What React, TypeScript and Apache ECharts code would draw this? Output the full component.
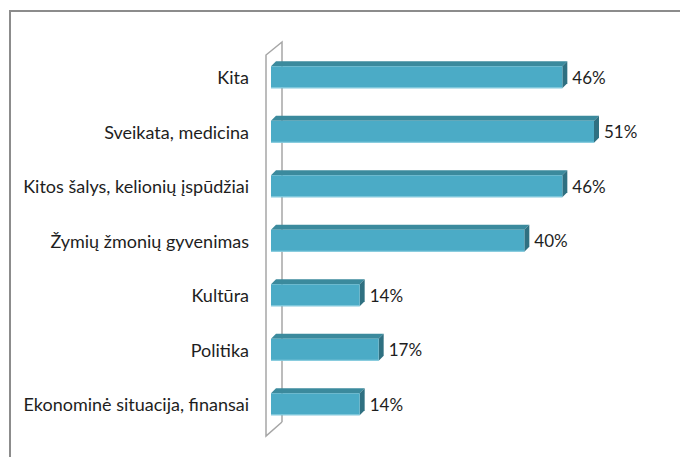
import React, { useEffect, useRef } from "react";
import * as echarts from "echarts";

const categories = [
  "Kita",
  "Sveikata, medicina",
  "Kitos šalys, kelionių įspūdžiai",
  "Žymių žmonių gyvenimas",
  "Kultūra",
  "Politika",
  "Ekonominė situacija, finansai",
];
const values = [46, 51, 46, 40, 14, 17, 14];

const FONT = "Lato, 'Noto Sans', sans-serif";

export default function App() {
  const ref = useRef<HTMLDivElement>(null);
  useEffect(() => {
    if (!ref.current) return;
    const chart = echarts.init(ref.current, undefined, { renderer: "svg" });
    const data = values.map((v, i) => [v, i]);
    const dx = 5;
    const dy = 5;
    const h = 22;
    chart.setOption({
      animation: false,
      backgroundColor: "#ffffff",
      grid: { left: 271, right: 29, top: 50, bottom: 25.5, containLabel: false },
      xAxis: { type: "value", min: 0, max: 60, show: false },
      yAxis: {
        type: "category",
        data: categories,
        inverse: true,
        axisLine: { show: false },
        axisTick: { show: false },
        splitLine: { show: false },
        axisLabel: { fontSize: 18, color: "#1e1e1e", margin: 22, fontFamily: FONT },
      },
      graphic: [
        { type: "rect", z: 0, shape: { x: 9, y: 10, width: 671, height: 2 }, style: { fill: "#8c8c8c" } },
        { type: "rect", z: 0, shape: { x: 9, y: 10, width: 2, height: 447 }, style: { fill: "#8c8c8c" } },
        {
          type: "polyline",
          z: 0,
          shape: { points: [[282, 422], [266, 436], [266, 55], [282, 42], [282, 422]] },
          style: { stroke: "#a6a6a6", lineWidth: 1.5, fill: null },
        },
      ],
      series: [
        {
          type: "custom",
          z: 5,
          data,
          encode: { x: 0, y: 1 },
          renderItem: (params: any, api: any) => {
            const v = api.value(0);
            const idx = api.value(1);
            const end = api.coord([v, idx]);
            const start = api.coord([0, idx]);
            const x0 = start[0];
            const x1 = end[0];
            const y0 = end[1] - h / 2;
            return {
              type: "group",
              children: [
                {
                  type: "polygon",
                  shape: { points: [[x0, y0], [x1, y0], [x1 + dx, y0 - dy], [x0 + dx, y0 - dy]] },
                  style: { fill: "#3b8a9d" },
                },
                {
                  type: "polygon",
                  shape: { points: [[x1, y0], [x1 + dx, y0 - dy], [x1 + dx, y0 + h - dy], [x1, y0 + h]] },
                  style: { fill: "#2f7081" },
                },
                {
                  type: "rect",
                  shape: { x: x0, y: y0, width: x1 - x0, height: h },
                  style: { fill: "#4babc6" },
                },
                {
                  type: "rect",
                  shape: { x: x0, y: y0 + h - 1, width: x1 - x0, height: 1 },
                  style: { fill: "#8fd0e2" },
                },
                {
                  type: "text",
                  style: {
                    x: x1 + 10,
                    y: end[1],
                    text: `${v}%`,
                    fontSize: 17,
                    fontFamily: FONT,
                    fill: "#1e1e1e",
                    verticalAlign: "middle",
                    align: "left",
                  },
                },
              ],
            };
          },
        },
      ],
    });
    return () => chart.dispose();
  }, []);
  return (
    <div
      ref={ref}
      style={{ position: "absolute", left: 0, top: 0, width: 680, height: 457 }}
    />
  );
}
